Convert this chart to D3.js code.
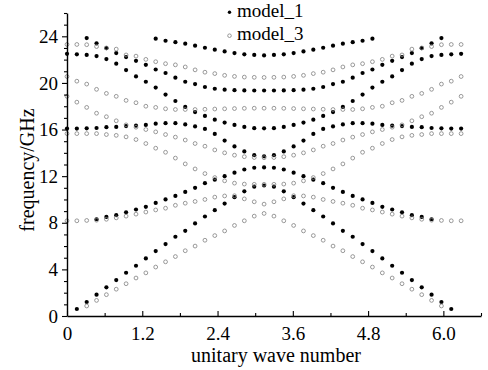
<!DOCTYPE html>
<html>
<head>
<meta charset="utf-8">
<script src="https://cdn.jsdelivr.net/npm/d3@7"></script>
<style>
  html, body { margin: 0; padding: 0; background: #fff; }
  svg text { font-family: "Liberation Serif", "Times New Roman", serif; fill: #000; }
</style>
</head>
<body>
<svg width="488" height="370"></svg>
<script>
// wave number samples (k * pi / 20, k = 0..40)
const waveNumbers = [0, 0.157, 0.314, 0.471, 0.628, 0.785, 0.942, 1.1, 1.257, 1.414,
  1.571, 1.728, 1.885, 2.042, 2.199, 2.356, 2.513, 2.67, 2.827, 2.985,
  3.142, 3.299, 3.456, 3.613, 3.77, 3.927, 4.084, 4.241, 4.398, 4.555,
  4.712, 4.869, 5.027, 5.184, 5.341, 5.498, 5.655, 5.812, 5.969, 6.126, 6.283];

// model_1 bands (filled dots), GHz
const model1Band1 = [null, 0.6, 1.2, 1.83, 2.46, 3.08, 3.71, 4.31, 4.94, 5.57, 6.17, 6.8, 7.31, 7.94, 8.54, 9.08, 9.65, 10.2, 10.7, 11.1,
  11.2, 11.1, 10.7, 10.2, 9.65, 9.08, 8.54, 7.94, 7.31, 6.8, 6.17, 5.57, 4.94, 4.31, 3.71, 3.08, 2.46, 1.83, 1.2, 0.6, null];
const model1Band2 = [null, null, null, 8.3, 8.5, 8.65, 8.9, 9.14, 9.37, 9.7, 10.0, 10.3, 10.65, 11.0, 11.4, 11.7, 12.0, 12.3, 12.57, 12.72,
  12.75, 12.72, 12.57, 12.3, 12.0, 11.7, 11.4, 11.0, 10.65, 10.3, 10.0, 9.7, 9.37, 9.14, 8.9, 8.65, 8.5, 8.3, null, null, null];
const model1Band3 = [16.08, 16.08, 16.1, 16.13, 16.2, 16.22, 16.3, 16.33, 16.4, 16.5, 16.55, 16.55, 16.44, 16.27, 16.05, 15.62, 15.05, 14.55, 14.12, 13.8,
  13.7, 13.8, 14.12, 14.55, 15.05, 15.62, 16.05, 16.27, 16.44, 16.55, 16.55, 16.5, 16.4, 16.33, 16.3, 16.22, 16.2, 16.13, 16.1, 16.08, 16.08];
const model1Band4 = [22.5, 22.45, 22.4, 22.3, 22.05, 21.65, 21.1, 20.56, 20.1, 19.6, 19.0, 18.45, 17.94, 17.5, 17.17, 16.85, 16.6, 16.4, 16.22, 16.12,
  16.1, 16.12, 16.22, 16.4, 16.6, 16.85, 17.17, 17.5, 17.94, 18.45, 19.0, 19.6, 20.1, 20.56, 21.1, 21.65, 22.05, 22.3, 22.4, 22.45, 22.5];
const model1Band5 = [null, null, 23.85, 23.4, 22.98, 22.56, 22.22, 21.9, 21.55, 21.15, 20.85, 20.45, 20.1, 19.9, 19.65, 19.5, 19.42, 19.38, 19.36, 19.35,
  19.35, 19.35, 19.36, 19.38, 19.42, 19.5, 19.65, 19.9, 20.1, 20.45, 20.85, 21.15, 21.55, 21.9, 22.22, 22.56, 22.98, 23.4, 23.85, null, null];
const model1Band6 = [null, null, null, null, null, null, null, null, null, 23.8, 23.62, 23.5, 23.37, 23.2, 23.02, 22.85, 22.7, 22.56, 22.45, 22.4,
  22.36, 22.4, 22.45, 22.56, 22.7, 22.85, 23.02, 23.2, 23.37, 23.5, 23.62, 23.8, null, null, null, null, null, null, null, null, null];

// model_3 bands (open circles), GHz
const model3Band1 = [null, null, 0.86, 1.34, 1.83, 2.3, 2.77, 3.26, 3.7, 4.2, 4.65, 5.1, 5.6, 6.0, 6.5, 6.9, 7.3, 7.77, 8.17, 8.57,
  8.8, 8.57, 8.17, 7.77, 7.3, 6.9, 6.5, 6.0, 5.6, 5.1, 4.65, 4.2, 3.7, 3.26, 2.77, 2.3, 1.83, 1.34, 0.86, null, null];
const model3Band2 = [8.17, 8.17, 8.2, 8.22, 8.3, 8.42, 8.57, 8.74, 8.92, 9.1, 9.25, 9.5, 9.68, 9.83, 10.0, 10.2, 10.3, 10.32, 10.05, 9.8,
  9.6, 9.8, 10.05, 10.32, 10.3, 10.2, 10.0, 9.83, 9.68, 9.5, 9.25, 9.1, 8.92, 8.74, 8.57, 8.42, 8.3, 8.22, 8.2, 8.17, 8.17];
const model3Band3 = [15.65, 15.65, 15.65, 15.65, 15.57, 15.5, 15.37, 15.14, 14.8, 14.4, 14.05, 13.55, 13.05, 12.62, 12.22, 11.88, 11.6, 11.4, 11.32, 11.3,
  11.3, 11.3, 11.32, 11.4, 11.6, 11.88, 12.22, 12.62, 13.05, 13.55, 14.05, 14.4, 14.8, 15.14, 15.37, 15.5, 15.57, 15.65, 15.65, 15.65, 15.65];
const model3Band4 = [18.85, 18.35, 17.9, 17.4, 17.1, 16.75, 16.4, 16.2, 16.0, 15.8, 15.57, 15.35, 15.1, 14.8, 14.57, 14.25, 14.0, 13.8, 13.67, 13.6,
  13.58, 13.6, 13.67, 13.8, 14.0, 14.25, 14.57, 14.8, 15.1, 15.35, 15.57, 15.8, 16.0, 16.2, 16.4, 16.75, 17.1, 17.4, 17.9, 18.35, 18.85];
const model3Band5 = [20.55, 20.15, 19.9, 19.45, 19.1, 18.85, 18.5, 18.3, 18.0, 17.9, 17.78, 17.72, 17.72, 17.72, 17.74, 17.76, 17.78, 17.8, 17.82, 17.83,
  17.83, 17.83, 17.82, 17.8, 17.78, 17.76, 17.74, 17.72, 17.72, 17.72, 17.78, 17.9, 18.0, 18.3, 18.5, 18.85, 19.1, 19.45, 19.9, 20.15, 20.55];
const model3Band6 = [23.3, 23.3, 23.28, 23.12, 23.0, 22.9, 22.4, 22.3, 22.02, 21.82, 21.65, 21.55, 21.37, 21.12, 20.92, 20.8, 20.65, 20.56, 20.5, 20.48,
  20.47, 20.48, 20.5, 20.56, 20.65, 20.8, 20.92, 21.12, 21.37, 21.55, 21.65, 21.82, 22.02, 22.3, 22.4, 22.9, 23.0, 23.12, 23.28, 23.3, 23.3];

const xMajorTicks = [0, 1.2, 2.4, 3.6, 4.8, 6.0];
const xMinorTicks = [0.6, 1.8, 3.0, 4.2, 5.4, 6.6];
const yMajorTicks = [0, 4, 8, 12, 16, 20, 24];
const yMinorTicks = [1, 2, 3, 5, 6, 7, 9, 10, 11, 13, 14, 15, 17, 18, 19, 21, 22, 23, 25, 26];

const seriesNames = ['model_1', 'model_3'];

const serif = '"Liberation Serif", "Times New Roman", serif';
const svg = d3.select('svg');
const margin = { top: 13, left: 67, right: 7, bottom: 54 };
const width = +svg.attr('width');
const height = +svg.attr('height');

const xScale = d3.scaleLinear().domain([0, 6.6]).range([margin.left, width - margin.right]);
const yScale = d3.scaleLinear().domain([0, 26]).range([height - margin.bottom, margin.top]);

// flatten bands into point lists
const toPoints = (bands) => bands.flatMap((band) => band
  .map((v, i) => ({ x: waveNumbers[i], y: v }))
  .filter((p) => p.y !== null));

const filledPoints = toPoints([model1Band1, model1Band2, model1Band3, model1Band4, model1Band5, model1Band6]);
const openPoints = toPoints([model3Band1, model3Band2, model3Band3, model3Band4, model3Band5, model3Band6]);

// points
svg.append('g')
  .selectAll('circle')
  .data(filledPoints)
  .enter()
  .append('circle')
  .attr('cx', (d) => xScale(d.x))
  .attr('cy', (d) => yScale(d.y))
  .attr('r', 2.1)
  .attr('fill', '#000');

svg.append('g')
  .selectAll('circle')
  .data(openPoints)
  .enter()
  .append('circle')
  .attr('cx', (d) => xScale(d.x))
  .attr('cy', (d) => yScale(d.y))
  .attr('r', 1.9)
  .attr('fill', 'none')
  .attr('stroke', '#808080')
  .attr('stroke-width', 0.8);

// axes
const x0 = yScale(0);
const axisFont = '19px';

svg.append('g')
  .attr('transform', `translate(0,${x0})`)
  .call(d3.axisBottom(xScale).tickValues(xMinorTicks).tickSize(-3).tickSizeOuter(0).tickFormat(''))
  .call((g) => g.select('.domain').remove());

const xAxis = svg.append('g')
  .attr('transform', `translate(0,${x0})`)
  .call(d3.axisBottom(xScale).tickValues(xMajorTicks).tickSize(-5).tickSizeOuter(0)
    .tickPadding(11).tickFormat((d) => (d === 0 ? '0' : d3.format('.1f')(d))));
xAxis.attr('font-family', serif).attr('font-size', axisFont);
xAxis.selectAll('text').attr('font-family', serif).attr('font-size', axisFont);
xAxis.select('.domain').attr('stroke-width', 1.4);

svg.append('g')
  .attr('transform', `translate(${margin.left},0)`)
  .call(d3.axisLeft(yScale).tickValues(yMinorTicks).tickSize(3).tickSizeOuter(0).tickFormat(''))
  .call((g) => g.select('.domain').remove());

const yAxis = svg.append('g')
  .attr('transform', `translate(${margin.left},0)`)
  .call(d3.axisLeft(yScale).tickValues(yMajorTicks).tickSize(5).tickSizeOuter(0).tickPadding(4));
yAxis.attr('font-family', serif).attr('font-size', axisFont);
yAxis.selectAll('text').attr('font-family', serif).attr('font-size', axisFont);
yAxis.select('.domain').attr('stroke-width', 1.4);

svg.selectAll('.tick line').attr('stroke-width', 1.1);

// axis titles
svg.append('text')
  .attr('x', 276)
  .attr('y', 362)
  .attr('text-anchor', 'middle')
  .attr('font-family', serif)
  .attr('font-size', '20px')
  .text('unitary wave number');

svg.append('text')
  .attr('transform', 'translate(34,170) rotate(-90)')
  .attr('text-anchor', 'middle')
  .attr('font-family', serif)
  .attr('font-size', '20px')
  .text('frequency/GHz');

// legend
const legend = svg.append('g');
legend.append('circle').attr('cx', 229.5).attr('cy', 12.3).attr('r', 1.7).attr('fill', '#000');
legend.append('circle').attr('cx', 229.5).attr('cy', 35.7).attr('r', 1.8)
  .attr('fill', 'none').attr('stroke', '#808080').attr('stroke-width', 0.8);
legend.selectAll('text')
  .data(seriesNames)
  .enter()
  .append('text')
  .attr('x', 237)
  .attr('y', (d, i) => 16.5 + i * 23.5)
  .attr('font-family', serif)
  .attr('font-size', '19px')
  .text((d) => d);
</script>
</body>
</html>
